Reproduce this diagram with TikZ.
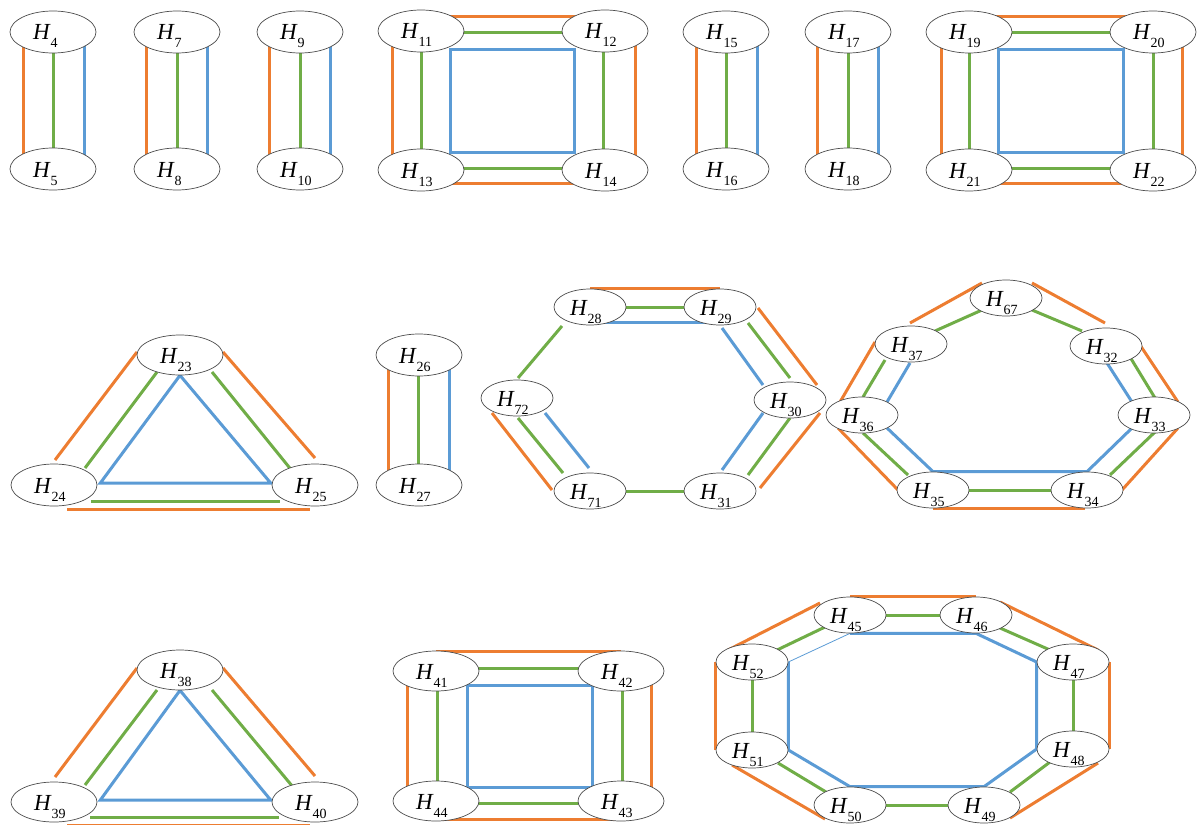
\documentclass[tikz,border=0pt]{standalone}
\usepackage{fontspec}
\setmainfont{Liberation Serif}
\usetikzlibrary{shapes.geometric, backgrounds, calc}

\definecolor{orgc}{HTML}{ED7D31}
\definecolor{grnc}{HTML}{70AD47}
\definecolor{bluc}{HTML}{5B9BD5}

\newcommand{\hsub}[1]{\makebox[40pt][l]{\textit{H}\raisebox{-8pt}{\fontsize{14}{14}\selectfont #1}}}

\begin{document}
\begin{tikzpicture}[
    x=1pt, y=-1pt,
    hnode/.style={ellipse, draw=black!70, line width=0.7pt, fill=white, minimum width=86pt, minimum height=42pt, inner sep=0pt, text height=16pt, text depth=0pt, font=\fontsize{23}{25}\selectfont},
    hlow/.style={hnode, minimum height=40pt},
    hsmall/.style={hnode, minimum width=72pt, minimum height=36pt},
    orgline/.style={draw=orgc, line width=3pt},
    grnline/.style={draw=grnc, line width=3pt},
    bluline/.style={draw=bluc, line width=3pt},
]
    \useasboundingbox (0,0) rectangle (1198,824);

    % row 1: pairs
    \node (H4) [hnode] at (53,32) {\hsub{4}};
    \node (H5) [hnode] at (53,169) {\hsub{5}};
    \node (H7) [hnode] at (177,32) {\hsub{7}};
    \node (H8) [hnode] at (177,169) {\hsub{8}};
    \node (H9) [hnode] at (300,32) {\hsub{9}};
    \node (H10) [hnode] at (300,169) {\hsub{10}};
    \node (H15) [hnode] at (726,32) {\hsub{15}};
    \node (H16) [hnode] at (726,169) {\hsub{16}};
    \node (H17) [hnode] at (848,32) {\hsub{17}};
    \node (H18) [hnode] at (848,169) {\hsub{18}};

    % row 1: squares
    \node (H11) [hnode] at (421,31) {\hsub{11}};
    \node (H12) [hnode] at (605,31) {\hsub{12}};
    \node (H13) [hnode] at (421,170) {\hsub{13}};
    \node (H14) [hnode] at (605,170) {\hsub{14}};
    \node (H19) [hnode] at (969,32) {\hsub{19}};
    \node (H20) [hnode] at (1153,32) {\hsub{20}};
    \node (H21) [hnode] at (969,170) {\hsub{21}};
    \node (H22) [hnode] at (1153,170) {\hsub{22}};

    % row 2: triangle and pair
    \node (H23) [hlow] at (180,355) {\hsub{23}};
    \node (H24) [hnode] at (54,485) {\hsub{24}};
    \node (H25) [hnode] at (315,485) {\hsub{25}};
    \node (H26) [hnode] at (419,355) {\hsub{26}};
    \node (H27) [hnode] at (419,485) {\hsub{27}};

    % row 2: hexagon
    \node (H28) [hsmall] at (590,307) {\hsub{28}};
    \node (H29) [hsmall] at (720,307) {\hsub{29}};
    \node (H30) [hsmall] at (790,400) {\hsub{30}};
    \node (H31) [hsmall] at (720,491) {\hsub{31}};
    \node (H71) [hsmall] at (590,491) {\hsub{71}};
    \node (H72) [hsmall] at (517,398) {\hsub{72}};

    % row 2: heptagon
    \node (H67) [hsmall] at (1006,298) {\hsub{67}};
    \node (H32) [hsmall] at (1106,346) {\hsub{32}};
    \node (H33) [hsmall] at (1154,415) {\hsub{33}};
    \node (H34) [hsmall] at (1087,490) {\hsub{34}};
    \node (H35) [hsmall] at (933,490) {\hsub{35}};
    \node (H36) [hsmall] at (862,415) {\hsub{36}};
    \node (H37) [hsmall] at (911,344) {\hsub{37}};

    % row 3: triangle and square
    \node (H38) [hlow] at (180,670) {\hsub{38}};
    \node (H39) [hlow] at (54,802) {\hsub{39}};
    \node (H40) [hlow] at (315,802) {\hsub{40}};
    \node (H41) [hlow] at (436,671) {\hsub{41}};
    \node (H42) [hlow] at (621,671) {\hsub{42}};
    \node (H43) [hlow] at (621,801) {\hsub{43}};
    \node (H44) [hlow] at (436,801) {\hsub{44}};

    % row 3: octagon
    \node (H45) [hsmall] at (850,615) {\hsub{45}};
    \node (H46) [hsmall] at (976,615) {\hsub{46}};
    \node (H47) [hsmall] at (1073,662) {\hsub{47}};
    \node (H48) [hsmall] at (1073,749) {\hsub{48}};
    \node (H49) [hsmall] at (984,805) {\hsub{49}};
    \node (H50) [hsmall] at (850,805) {\hsub{50}};
    \node (H51) [hsmall] at (752,750) {\hsub{51}};
    \node (H52) [hsmall] at (752,662) {\hsub{52}};

    \begin{scope}[on background layer]
    % pairs
    \draw [orgline] ($(H4)+(-30,0)$) -- ($(H5)+(-30,0)$);
    \draw [grnline] (H4) -- (H5);
    \draw [bluline] ($(H4)+(31,0)$) -- ($(H5)+(31,0)$);
    \draw [orgline] ($(H7)+(-31,0)$) -- ($(H8)+(-31,0)$);
    \draw [grnline] (H7) -- (H8);
    \draw [bluline] ($(H7)+(30,0)$) -- ($(H8)+(30,0)$);
    \draw [orgline] ($(H9)+(-31,0)$) -- ($(H10)+(-31,0)$);
    \draw [grnline] (H9) -- (H10);
    \draw [bluline] ($(H9)+(30,0)$) -- ($(H10)+(30,0)$);
    \draw [orgline] ($(H15)+(-30,0)$) -- ($(H16)+(-30,0)$);
    \draw [grnline] (H15) -- (H16);
    \draw [bluline] ($(H15)+(31,0)$) -- ($(H16)+(31,0)$);
    \draw [orgline] ($(H17)+(-31,0)$) -- ($(H18)+(-31,0)$);
    \draw [grnline] (H17) -- (H18);
    \draw [bluline] ($(H17)+(30,0)$) -- ($(H18)+(30,0)$);
    \draw [orgline] ($(H26)+(-31,0)$) -- ($(H27)+(-31,0)$);
    \draw [grnline] ($(H26)+(-1,0)$) -- ($(H27)+(-1,0)$);
    \draw [bluline] ($(H26)+(30,0)$) -- ($(H27)+(30,0)$);

    % square H11-H14
    \draw [orgline] ($(H11)+(0,-14)$) -- ($(H12)+(0,-14)$);
    \draw [orgline] ($(H13)+(0,13)$) -- ($(H14)+(0,13)$);
    \draw [orgline] ($(H11)+(-29,0)$) -- ($(H13)+(-29,0)$);
    \draw [orgline] ($(H12)+(30,0)$) -- ($(H14)+(30,0)$);
    \draw [grnline] ($(H11)+(0,2)$) -- ($(H12)+(0,2)$);
    \draw [grnline] ($(H13)+(0,-2)$) -- ($(H14)+(0,-2)$);
    \draw [grnline] (H11) -- (H13);
    \draw [grnline] ($(H12)+(-2,0)$) -- ($(H14)+(-2,0)$);
    \draw [bluline] ($(H11)+(29,19)$) -- ($(H12)+(-31,19)$) -- ($(H14)+(-31,-18)$) -- ($(H13)+(29,-18)$) -- cycle;

    % square H19-H22
    \draw [orgline] ($(H19)+(0,-15)$) -- ($(H20)+(0,-15)$);
    \draw [orgline] ($(H21)+(0,13)$) -- ($(H22)+(0,13)$);
    \draw [orgline] ($(H19)+(-28,0)$) -- ($(H21)+(-28,0)$);
    \draw [orgline] ($(H20)+(29,0)$) -- ($(H22)+(29,0)$);
    \draw [grnline] ($(H19)+(0,1)$) -- ($(H20)+(0,1)$);
    \draw [grnline] ($(H21)+(0,-2)$) -- ($(H22)+(0,-2)$);
    \draw [grnline] (H19) -- (H21);
    \draw [grnline] (H20) -- (H22);
    \draw [bluline] ($(H19)+(29,18)$) -- ($(H20)+(-30,18)$) -- ($(H22)+(-30,-18)$) -- ($(H21)+(29,-18)$) -- cycle;

    % triangle H23-H25
    \draw [orgline] ($(H23)+(-43,-3)$) -- ($(H24)+(1,-25)$);
    \draw [orgline] ($(H23)+(43,-3)$) -- ($(H25)+(0,-27)$);
    \draw [orgline] ($(H24)+(13,24)$) -- ($(H25)+(-5,24)$);
    \draw [grnline] ($(H23)+(-23,17)$) -- ($(H24)+(31,-17)$);
    \draw [grnline] ($(H23)+(32,17)$) -- ($(H25)+(-22,-13)$);
    \draw [grnline] ($(H24)+(37,16)$) -- ($(H25)+(-35,16)$);
    \draw [bluline] (H23.south) -- ($(H24.east)+(3,-2)$) -- ($(H25.west)+(-1,-2)$) -- cycle;

    % hexagon
    \draw [orgline] (H28.north) -- (H29.north);
    \draw [grnline] (H28) -- (H29);
    \draw [bluline] ($(H28)+(0,15)$) -- ($(H29)+(0,15)$);
    \draw [grnline] ($(H28)+(-28,19)$) -- ($(H72)+(1,-20)$);
    \draw [orgline] ($(H29)+(38,1)$) -- ($(H30)+(27,-15)$);
    \draw [grnline] ($(H29)+(28,16)$) -- ($(H30)+(0,-22)$);
    \draw [bluline] ($(H29)+(2,21)$) -- ($(H30)+(-27,-15)$);
    \draw [orgline] ($(H30)+(30,13)$) -- ($(H31)+(40,-3)$);
    \draw [grnline] ($(H30)+(0,18)$) -- ($(H31)+(28,-16)$);
    \draw [bluline] ($(H30)+(-27,13)$) -- ($(H31)+(2,-21)$);
    \draw [grnline] (H31) -- (H71);
    \draw [orgline] ($(H72)+(-25,15)$) -- ($(H71)+(-38,-1)$);
    \draw [grnline] ($(H72)+(1,20)$) -- ($(H71)+(-27,-18)$);
    \draw [bluline] ($(H72)+(28,15)$) -- ($(H71)+(-1,-23)$);

    % heptagon
    \draw [orgline] ($(H67)+(26,-15)$) -- ($(H32)+(-1,-23)$);
    \draw [grnline] ($(H67)+(26,12)$) -- ($(H32)+(-24,-15)$);
    \draw [orgline] ($(H67)+(-24,-15)$) -- ($(H37)+(-1,-21)$);
    \draw [grnline] ($(H67)+(-24,12)$) -- ($(H37)+(24,-13)$);
    \draw [orgline] ($(H32)+(34,-1)$) -- ($(H33)+(24,-13)$);
    \draw [grnline] ($(H32)+(24,11)$) -- ($(H33)+(1,-17)$);
    \draw [bluline] ($(H32)+(1,17)$) -- ($(H33)+(-22,-13)$);
    \draw [orgline] ($(H33)+(24,13)$) -- ($(H34)+(35,0)$);
    \draw [grnline] ($(H33)+(1,17)$) -- ($(H34)+(23,-15)$);
    \draw [bluline] ($(H33)+(-22,13)$) -- (H34.north) -- (H35.north) -- ($(H36)+(25,13)$);
    \draw [grnline] (H34) -- (H35);
    \draw [orgline] ($(H34)+(-2,18)$) -- ($(H35)+(0,18)$);
    \draw [grnline] ($(H35)+(-25,-15)$) -- ($(H36)+(1,18)$);
    \draw [orgline] ($(H35)+(-35,0)$) -- ($(H36)+(-24,13)$);
    \draw [bluline] ($(H36)+(25,-13)$) -- ($(H37)+(-1,19)$);
    \draw [grnline] ($(H36)+(1,-18)$) -- ($(H37)+(-26,16)$);
    \draw [orgline] ($(H36)+(-22,-13)$) -- ($(H37)+(-36,-2)$);

    % triangle H38-H40
    \draw [orgline] ($(H38)+(-43,-2)$) -- ($(H39)+(1,-25)$);
    \draw [orgline] ($(H38)+(43,-2)$) -- ($(H40)+(0,-26)$);
    \draw [orgline] ($(H39)+(13,23)$) -- ($(H40)+(-5,23)$);
    \draw [grnline] ($(H38)+(-23,20)$) -- ($(H39)+(31,-17)$);
    \draw [grnline] ($(H38)+(32,20)$) -- ($(H40)+(-22,-15)$);
    \draw [grnline] ($(H39)+(36,15)$) -- ($(H40)+(-36,15)$);
    \draw [bluline] (H38.south) -- ($(H39.east)+(3,-2)$) -- ($(H40.west)+(-1,-2)$) -- cycle;

    % square H41-H44
    \draw [orgline] ($(H41)+(0,-20)$) -- ($(H42)+(0,-20)$);
    \draw [orgline] ($(H44)+(0,18)$) -- ($(H43)+(0,18)$);
    \draw [orgline] ($(H41)+(-29,0)$) -- ($(H44)+(-29,0)$);
    \draw [orgline] ($(H42)+(30,0)$) -- ($(H43)+(30,0)$);
    \draw [grnline] ($(H41)+(0,-3)$) -- ($(H42)+(0,-3)$);
    \draw [grnline] ($(H44)+(0,2)$) -- ($(H43)+(0,2)$);
    \draw [grnline] ($(H41)+(1,0)$) -- ($(H44)+(1,0)$);
    \draw [grnline] ($(H42)+(1,0)$) -- ($(H43)+(1,0)$);
    \draw [bluline] ($(H41)+(31,14)$) -- ($(H42)+(-29,14)$) -- ($(H43)+(-29,-14)$) -- ($(H44)+(31,-14)$) -- cycle;

    % octagon
    \draw [orgline] (H45.north) -- (H46.north);
    \draw [orgline] ($(H46)+(24,-13)$) -- ($(H47)+(25,-12)$);
    \draw [orgline] (H47.east) -- (H48.east);
    \draw [orgline] ($(H48)+(25,14)$) -- ($(H49)+(26,13)$);
    \draw [orgline] ($(H50)+(-25,14)$) -- ($(H51)+(-20,15)$);
    \draw [orgline] (H51.west) -- (H52.west);
    \draw [orgline] ($(H52)+(-24,-12)$) -- ($(H45)+(-30,-12)$);
    \draw [grnline] (H45) -- (H46);
    \draw [grnline] ($(H46)+(24,13)$) -- ($(H47)+(-23,-12)$);
    \draw [grnline] (H47) -- (H48);
    \draw [grnline] ($(H48)+(-23,13)$) -- ($(H49)+(26,-13)$);
    \draw [grnline] (H49) -- (H50);
    \draw [grnline] ($(H50)+(-24,-13)$) -- ($(H51)+(26,13)$);
    \draw [grnline] (H51) -- (H52);
    \draw [grnline] ($(H52)+(25,-12)$) -- ($(H45)+(-25,12)$);
    \draw [bluline] (H45.south) -- (H46.south) -- (H47.west) -- (H48.west) -- (H49.north) -- (H50.north) -- (H51.east) -- (H52.east);
    \draw [draw=bluc, line width=0.8pt] (H52.east) -- (H45.south);
    \end{scope}

\end{tikzpicture}
\end{document}
